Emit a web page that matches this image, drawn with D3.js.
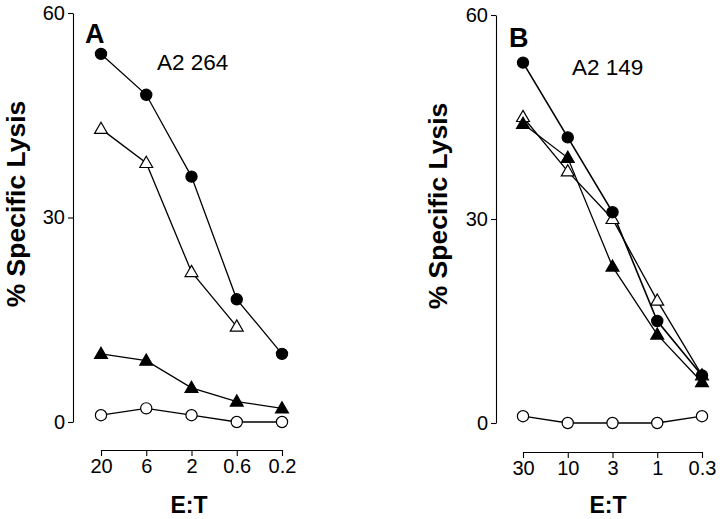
<!DOCTYPE html>
<html><head><meta charset="utf-8">
<script src="https://cdn.jsdelivr.net/npm/d3@7"></script>
<style>
body{margin:0;background:#fff}
text{font-family:"Liberation Sans",Arial,sans-serif;fill:#000}
</style></head>
<body>
<svg id="c" width="720" height="519"></svg>
<script>
// Panel A data (A2 264)
const catsA = ["20","6","2","0.6","0.2"];
const aFilledCircle   = [54,48,36,18,10];
const aOpenTriangle   = [43,38,22,14,null];
const aFilledTriangle = [10,9,5,3,2];
const aOpenCircle     = [1,2,1,0,0];
// Panel B data (A2 149)
const catsB = ["30","10","3","1","0.3"];
const bFilledCircle   = [53,42,31,15,7];
const bOpenTriangle   = [45,37,30,18,7];
const bFilledTriangle = [44,39,23,13,6];
const bOpenCircle     = [1,0,0,0,1];
const yTicks = [0,30,60];

const svg = d3.select("#c");

function panel(cfg){
  const x = d3.scalePoint().domain(cfg.cats).range(cfg.xr);
  const y = d3.scaleLinear().domain([0,60]).range(cfg.yr);
  const g = svg.append("g");
  // y axis
  const ya = g.append("g").attr("transform",`translate(${cfg.ax},0)`)
    .call(d3.axisLeft(y).tickValues(yTicks).tickSize(5).tickSizeOuter(0).tickPadding(3));
  ya.selectAll("text").style("font-size","20px").style("font-family","Liberation Sans, Arial").attr("fill","#000");
  ya.selectAll("line,path").attr("stroke","#000").attr("stroke-width",1.1);
  // x axis
  const xa = g.append("g").attr("transform",`translate(0,${cfg.ay})`)
    .call(d3.axisBottom(x).tickSize(6).tickSizeOuter(0).tickPadding(3));
  xa.selectAll("text").style("font-size","20px").style("font-family","Liberation Sans, Arial").attr("fill","#000");
  xa.selectAll("line,path").attr("stroke","#000").attr("stroke-width",1.1);
  // labels
  g.append("text").attr("transform",`translate(${cfg.ylx},${cfg.yly}) rotate(-90)`)
    .attr("text-anchor","middle").attr("dominant-baseline","central")
    .style("font-size","26.5px").style("font-weight","bold").text("% Specific Lysis");
  g.append("text").attr("x",cfg.etx).attr("y",513).attr("text-anchor","middle")
    .style("font-size","23px").style("font-weight","bold").text("E:T");
  g.append("text").attr("x",cfg.lx).attr("y",cfg.ly)
    .style("font-size","27px").style("font-weight","bold").text(cfg.letter);
  g.append("text").attr("x",cfg.tx).attr("y",cfg.ty)
    .style("font-size","22.5px").text(cfg.title);

  const line = d3.line().x(d=>x(d.c)).y(d=>y(d.v));
  const tri = d3.symbol().type(d3.symbolTriangle).size(72);
  cfg.series.forEach(s=>{
    const pts = cfg.cats.map((c,i)=>({c, v:s.vals[i]})).filter(d=>d.v!=null);
    g.append("path").datum(pts).attr("d",line).attr("fill","none")
      .attr("stroke","#000").attr("stroke-width",s.w||1.3);
  });
  cfg.series.forEach(s=>{
    const pts = cfg.cats.map((c,i)=>({c, v:s.vals[i]})).filter(d=>d.v!=null);
    const fill = s.filled ? "#000" : "#fff";
    if(s.shape==="circle"){
      g.selectAll(null).data(pts).enter().append("circle")
        .attr("cx",d=>x(d.c)).attr("cy",d=>y(d.v)).attr("r",5.6)
        .attr("fill",fill).attr("stroke","#000").attr("stroke-width",1.2);
    } else {
      g.selectAll(null).data(pts).enter().append("path").attr("d",tri)
        .attr("transform",d=>`translate(${x(d.c)},${y(d.v)+0.8})`)
        .attr("fill",fill).attr("stroke","#000").attr("stroke-width",1.2);
    }
  });
}

panel({cats:catsA, xr:[101,282], yr:[422,13], ax:73, ay:450,
  ylx:16, yly:204, etx:189, lx:85, ly:43, letter:"A", tx:157, ty:70, title:"A2 264",
  series:[
    {vals:aOpenCircle, shape:"circle", filled:false},
    {vals:aFilledTriangle, shape:"tri", filled:true},
    {vals:aOpenTriangle, shape:"tri", filled:false},
    {vals:aFilledCircle, shape:"circle", filled:true}
  ]});
panel({cats:catsB, xr:[523,702], yr:[423,15], ax:496, ay:452,
  ylx:438, yly:206, etx:608, lx:509, ly:47, letter:"B", tx:572, ty:75, title:"A2 149",
  series:[
    {vals:bOpenCircle, shape:"circle", filled:false},
    {vals:bOpenTriangle, shape:"tri", filled:false},
    {vals:bFilledTriangle, shape:"tri", filled:true},
    {vals:bFilledCircle, shape:"circle", filled:true, w:1.6}
  ]});
</script>
</body></html>
